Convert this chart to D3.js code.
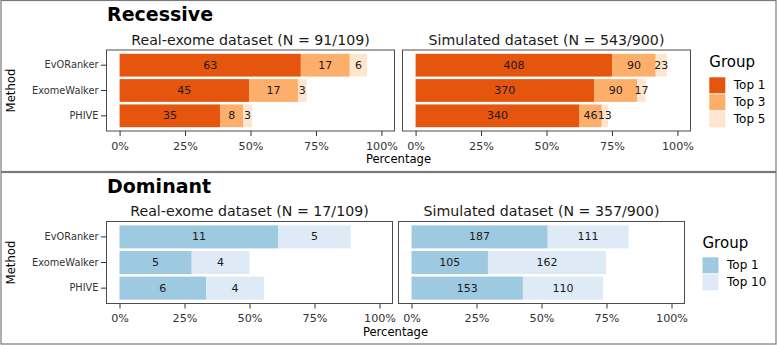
<!DOCTYPE html>
<html><head><meta charset="utf-8">
<script src="https://cdn.jsdelivr.net/npm/d3@7"></script>
<style>body{margin:0;background:#fff}svg{display:block;font-family:"DejaVu Sans",sans-serif}</style>
</head><body><svg id="c" width="777" height="345"></svg>
<script>
// ---- data ----
const methods = ["EvORanker", "ExomeWalker", "PHIVE"];
const xTicks = [0, 25, 50, 75, 100];

const recGroups = ["Top 1", "Top 3", "Top 5"];
const recColors = ["#e6550d", "#fdae6b", "#fee6ce"];
const recRealTop1 = [63, 45, 35];
const recRealTop3 = [17, 17, 8];
const recRealTop5 = [6, 3, 3];
const recRealDenom = 91;
const recSimTop1 = [408, 370, 340];
const recSimTop3 = [90, 90, 46];
const recSimTop5 = [23, 17, 13];
const recSimDenom = 543;

const domGroups = ["Top 1", "Top 10"];
const domColors = ["#9ecae1", "#deebf7"];
const domRealTop1 = [11, 5, 6];
const domRealTop10 = [5, 4, 4];
const domRealDenom = 18;
const domSimTop1 = [187, 105, 153];
const domSimTop10 = [111, 162, 110];
const domSimDenom = 357;

const titles = ["Recessive", "Dominant"];
const subtitles = [
  ["Real-exome dataset (N = 91/109)", "Simulated dataset (N = 543/900)"],
  ["Real-exome dataset (N = 17/109)", "Simulated dataset (N = 357/900)"]
];

// ---- layout ----
const svg = d3.select("#c");
const sections = [
  {box: [1, 0.5, 775, 171], title: titles[0], titleY: 20.7, top: 50, bottom: 131,
   frames: [[106.5, 394.5], [402.5, 690.5]],
   panels: [
     {sub: subtitles[0][0], series: [recRealTop1, recRealTop3, recRealTop5], denom: recRealDenom},
     {sub: subtitles[0][1], series: [recSimTop1, recSimTop3, recSimTop5], denom: recSimDenom}],
   groups: recGroups, colors: recColors, legX: 709.3, legY: 67, swY: 77.3},
  {box: [1, 172.5, 775, 171.5], title: titles[1], titleY: 192.5, top: 221.5, bottom: 303.5,
   frames: [[106.5, 392.5], [398.5, 684.5]],
   panels: [
     {sub: subtitles[1][0], series: [domRealTop1, domRealTop10], denom: domRealDenom},
     {sub: subtitles[1][1], series: [domSimTop1, domSimTop10], denom: domSimDenom}],
   groups: domGroups, colors: domColors, legX: 702.5, legY: 247.5, swY: 257.3}
];

sections.forEach(sec => {
  const g = svg.append("g");
  g.append("rect").attr("x", sec.box[0]).attr("y", sec.box[1]).attr("width", sec.box[2]).attr("height", sec.box[3])
    .attr("fill", "none").attr("stroke", "#7a7a7a").attr("stroke-width", 1.2);
  g.append("text").attr("x", 107).attr("y", sec.titleY).attr("font-size", 19).attr("font-weight", "bold")
    .attr("fill", "#000").text(sec.title);

  const y = d3.scaleBand().domain(methods).range([sec.top, sec.bottom]).paddingInner(0.1).paddingOuter(0.15);

  sec.panels.forEach((p, pi) => {
    const [fx0, fx1] = sec.frames[pi];
    const x = d3.scaleLinear().domain([-5, 105]).range([fx0, fx1]);
    const pg = g.append("g");
    const segs = [];
    methods.forEach((m, mi) => {
      let cum = 0;
      p.series.forEach((s, si) => {
        const v = s[mi];
        segs.push({m, si, v, x0: cum / p.denom * 100, x1: (cum + v) / p.denom * 100});
        cum += v;
      });
    });
    pg.selectAll("rect.bar").data(segs).join("rect").attr("class", "bar")
      .attr("x", d => x(d.x0)).attr("width", d => x(d.x1) - x(d.x0))
      .attr("y", d => y(d.m)).attr("height", y.bandwidth())
      .attr("fill", d => sec.colors[d.si]);
    pg.selectAll("text.lab").data(segs).join("text").attr("class", "lab")
      .attr("x", d => x((d.x0 + d.x1) / 2)).attr("y", d => y(d.m) + y.bandwidth() / 2)
      .attr("text-anchor", "middle").attr("dominant-baseline", "central")
      .attr("font-size", 11).attr("fill", "#1a1a1a").text(d => d.v);
    pg.append("rect").attr("x", fx0).attr("y", sec.top).attr("width", fx1 - fx0).attr("height", sec.bottom - sec.top)
      .attr("fill", "none").attr("stroke", "#4d4d4d").attr("stroke-width", 1);
    const xa = pg.append("g").attr("transform", `translate(0,${sec.bottom})`)
      .call(d3.axisBottom(x).tickValues(xTicks).tickFormat(d => d + "%").tickSize(5).tickPadding(3));
    xa.select(".domain").remove();
    xa.selectAll("line").attr("stroke", "#333");
    xa.selectAll("text").attr("font-size", 11.2).attr("fill", "#333").attr("font-family", "DejaVu Sans").attr("dy", "0.95em");
    pg.append("text").attr("x", (fx0 + fx1) / 2).attr("y", sec.top - 5.5).attr("text-anchor", "middle")
      .attr("font-size", 14.2).attr("fill", "#1a1a1a").text(p.sub);
    if (pi === 0) {
      const ya = pg.append("g").attr("transform", `translate(${fx0},0)`)
        .call(d3.axisLeft(y).tickSize(5.5).tickPadding(2.5));
      ya.select(".domain").remove();
      ya.selectAll("line").attr("stroke", "#333");
      ya.selectAll("text").attr("font-size", 9.8).attr("fill", "#333").attr("font-family", "DejaVu Sans");
    }
  });

  const xmid = (sec.frames[0][0] + sec.frames[1][1]) / 2;
  g.append("text").attr("x", xmid).attr("y", sec.bottom + 32).attr("text-anchor", "middle")
    .attr("font-size", 11.6).attr("fill", "#000").text("Percentage");
  g.append("text").attr("transform", `translate(15,${(sec.top + sec.bottom) / 2}) rotate(-90)`)
    .attr("text-anchor", "middle").attr("font-size", 11.7).attr("fill", "#000").text("Method");

  const lg = g.append("g");
  lg.append("text").attr("x", sec.legX).attr("y", sec.legY).attr("font-size", 15).attr("fill", "#000").text("Group");
  const items = lg.selectAll("g.it").data(sec.groups).join("g").attr("class", "it")
    .attr("transform", (d, i) => `translate(${sec.legX},${sec.swY + i * 17})`);
  items.append("rect").attr("width", 16).attr("height", 16).attr("fill", (d, i) => sec.colors[i]);
  items.append("text").attr("x", 24.5).attr("y", 8).attr("dominant-baseline", "central")
    .attr("font-size", 12).attr("fill", "#000").text(d => d);
});
</script></body></html>
